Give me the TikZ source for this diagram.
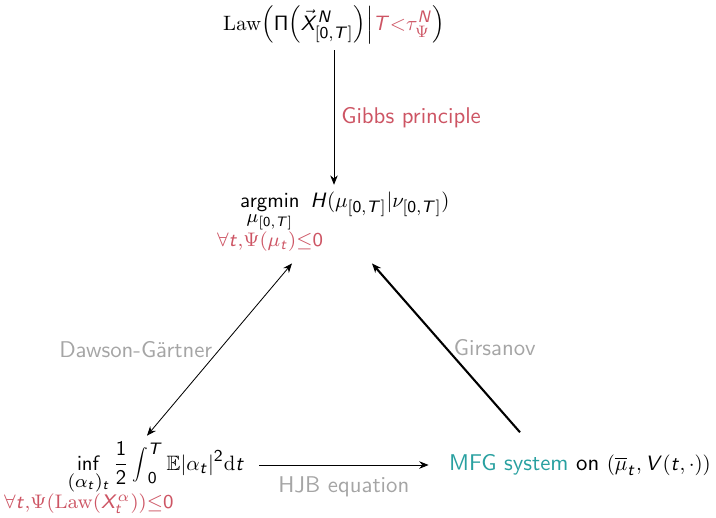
\documentclass[tikz,border=0pt]{standalone}
\usepackage{amsmath}
\usepackage{amssymb}
\usepackage{mathtools}
\usepackage{graphicx}
\usetikzlibrary{arrows.meta,positioning,calc}

% sans serif math letters, digits and operator names
\makeatletter
\DeclareMathSizes{10.95}{10}{8}{6}
\DeclareSymbolFont{sfletters}{OT1}{cmss}{m}{sl}
\DeclareSymbolFont{sfoperators}{OT1}{cmss}{m}{n}
\DeclareMathSymbol{\Pi}{\mathalpha}{sfoperators}{"05}
\def\operator@font{\mathgroup\symsfoperators}
\count@=65
\loop
  \mathcode\count@=\numexpr"7000+\symsfletters*"100+\count@\relax
  \advance\count@\@ne
\ifnum\count@<91 \repeat
\count@=97
\loop
  \mathcode\count@=\numexpr"7000+\symsfletters*"100+\count@\relax
  \advance\count@\@ne
\ifnum\count@<123 \repeat
\count@=48
\loop
  \mathcode\count@=\numexpr"7000+\symsfoperators*"100+\count@\relax
  \advance\count@\@ne
\ifnum\count@<58 \repeat
\makeatother

\definecolor{gibbsred}{RGB}{205,85,100}
\definecolor{notegray}{RGB}{165,165,165}
\definecolor{mfgteal}{RGB}{40,160,160}

% limits and constraint line under an operator
\newcommand{\oplim}[1]{\scalebox{1.1}{$\scriptstyle#1$}}
\newcommand{\constr}[1]{\mathclap{\scalebox{1.18}{$\scriptstyle\color{gibbsred}#1$}}}
\newcommand{\midint}{\mathop{\vcenter{\hbox{\scalebox{0.75}{$\displaystyle\int$}}}}\nolimits}

\begin{document}
\begin{tikzpicture}[
    x=0.0169cm, y=-0.0169cm,
    every node/.style={font=\sffamily\fontsize{10.95}{13}\selectfont},
    term/.style={anchor=base, inner sep=3pt},
    edgelabel/.style={text=notegray},
    arrow/.style={->, >={Stealth[length=4.5pt, width=3.6pt]}}
]
    \useasboundingbox (0,0) rectangle (716,517);

    % Conditioned law
    \node[term] (law) at (334,30) {$\mathrm{Law}\Big(\Pi\Big(\vec{X}^N_{[0,T]}\Big)\Big|{\color{gibbsred}T{<}\tau^N_\Psi}\Big)$};

    % Entropy minimisation
    \node[term] (opt) at (345,207) {$\displaystyle\operatorname*{argmin}_{\substack{\oplim{\mu_{[0,T]}}\\ \constr{\forall t,\Psi(\mu_t)\leq 0}}}\ H(\mu_{[0,T]}|\nu_{[0,T]})$};

    % Control problem
    \node[term] (ctrl) at (156,470) {$\displaystyle\inf_{\substack{\oplim{(\alpha_t)_t}\\ \constr{\forall t,\Psi(\mathrm{Law}(X^\alpha_t))\leq 0}}}\frac{1}{2}\midint_0^T\mathbb{E}|\alpha_t|^2\mathrm{d}t$};

    % MFG system
    \node[term] (mfg) at (580,470) {{\color{mfgteal}MFG system} on $(\overline{\mu}_t, V(t,\cdot))$};

    % Connections
    \draw[arrow] (law.south) -- (law.south |- opt.north)
        node[midway, right, text=gibbsred] {Gibbs principle};
    \draw[arrow, <->] ($(opt.south)+(-53,3)$) -- ($(ctrl.north)+(-9,0)$)
        node[midway, left, edgelabel] {Dawson-Gärtner};
    \draw[arrow, line width=1pt] ($(mfg.north)+(-60,-15)$) -- ($(opt.south)+(27,3)$)
        node[midway, right, edgelabel] {Girsanov};
    \draw[arrow] ($(ctrl.base east)+(8,-5)$) -- ($(mfg.base west)+(-14,-5)$)
        node[midway, below, edgelabel, yshift=-2pt] {HJB equation};
\end{tikzpicture}
\end{document}
